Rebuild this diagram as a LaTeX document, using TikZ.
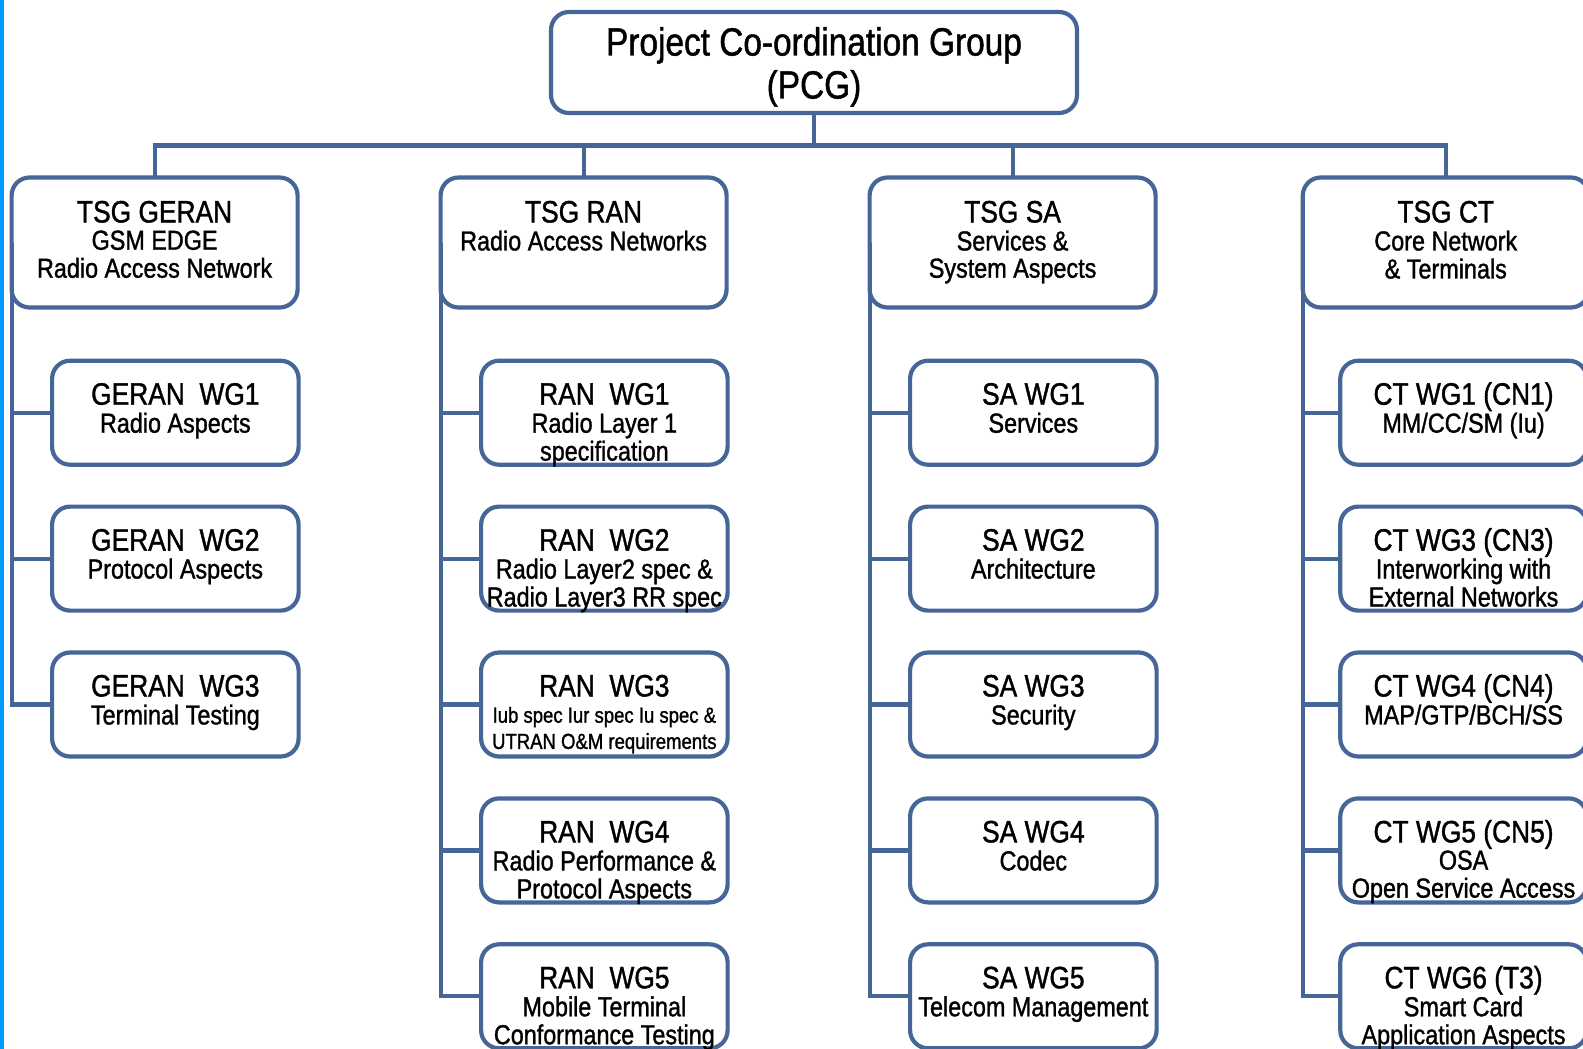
\documentclass[tikz,border=0pt]{standalone}
\usepackage{fontspec}
\setmainfont{Liberation Sans}[FakeStretch=0.85, FakeBold=1.2]
\usetikzlibrary{calc}
\definecolor{lineblue}{RGB}{70,102,152}
\definecolor{stripblue}{RGB}{0,153,255}
\newcommand\pcgfont{\fontsize{39.3}{43}\selectfont}
\newcommand\ttlfont{\fontsize{31}{31}\selectfont}
\newcommand\subfont{\fontsize{27.5}{26.8}\selectfont}
\newcommand\smallsubfont{\fontsize{21.8}{26.2}\selectfont}
\newcommand\lines[1]{\begin{tabular}[t]{@{}c@{}}#1\end{tabular}}
\tikzset{
  ln/.style={draw=lineblue, line width=4.2pt},
  boxbase/.style={ln, fill=white, rounded corners=18pt, inner sep=0pt, outer sep=0pt},
  tsgbox/.style={boxbase, minimum width=286pt, minimum height=130pt},
  wgbox/.style={boxbase, minimum width=246.5pt, minimum height=104pt},
  txt/.style={inner sep=0pt, text=black, font=\subfont, anchor=base},
}
\newcommand\mkwg[4]{%
  \node[wgbox, anchor=north west] (#1) at (#2,#3) {};
  \node[txt] (#1t) at ($(#1.north)+(0,44)$) {\lines{#4}};
}
\begin{document}
\begin{tikzpicture}[x=1pt, y=-1pt]
\clip (0,0) rectangle (1583,1049);
\fill[white] (0,0) rectangle (1583,1049);
\fill[stripblue] (0,0) rectangle (4,1049);

% PCG
\node[boxbase, minimum width=526pt, minimum height=101pt, anchor=north west] (pcg) at (551,12) {};
\node[txt, font=\pcgfont] (pcgt) at ($(pcg.north)+(0,43.5)$) {\lines{Project Co-ordination Group\\(PCG)}};

% TSG boxes
\node[tsgbox, anchor=north west] (tg) at (11.6,177.5) {};
\node[tsgbox, anchor=north west] (tr) at (440.6,177.5) {};
\node[tsgbox, anchor=north west] (ts) at (869.6,177.5) {};
\node[tsgbox, anchor=north west] (tc) at (1302.8,177.5) {};
\node[txt] (tgt) at ($(tg.north)+(0,45)$) {\lines{{\ttlfont TSG GERAN}\\GSM EDGE\\Radio Access Network}};
\node[txt] (trt) at ($(tr.north)+(0,45)$) {\lines{{\ttlfont TSG RAN}\\Radio Access Networks}};
\node[txt] (tst) at ($(ts.north)+(0,45)$) {\lines{{\ttlfont TSG SA}\\Services \&\\System Aspects}};
\node[txt] (tct) at ($(tc.north)+(0,45)$) {\lines{{\ttlfont TSG CT}\\Core Network\\\& Terminals}};

% GERAN WGs
\mkwg{g1}{52.1}{360.7}{{\ttlfont GERAN\ \ WG1}\\Radio Aspects}
\mkwg{g2}{52.1}{506.6}{{\ttlfont GERAN\ \ WG2}\\Protocol Aspects}
\mkwg{g3}{52.1}{652.5}{{\ttlfont GERAN\ \ WG3}\\Terminal Testing}

% RAN WGs
\mkwg{r1}{481.1}{360.7}{{\ttlfont RAN\ \ WG1}\\Radio Layer 1\\specification}
\mkwg{r2}{481.1}{506.6}{{\ttlfont RAN\ \ WG2}\\Radio Layer2 spec \&\\Radio Layer3 RR spec}
\node[wgbox, anchor=north west] (r3) at (481.1,652.5) {};
\node[txt, font=\smallsubfont] (r3t) at ($(r3.north)+(0,44)$) {\lines{{\ttlfont RAN\ \ WG3}\\Iub spec Iur spec Iu spec \&\\UTRAN O\&M requirements}};
\mkwg{r4}{481.1}{798.4}{{\ttlfont RAN\ \ WG4}\\Radio Performance \&\\Protocol Aspects}
\mkwg{r5}{481.1}{944.3}{{\ttlfont RAN\ \ WG5}\\Mobile Terminal\\Conformance Testing}

% SA WGs
\mkwg{s1}{910.1}{360.7}{{\ttlfont SA WG1}\\Services}
\mkwg{s2}{910.1}{506.6}{{\ttlfont SA WG2}\\Architecture}
\mkwg{s3}{910.1}{652.5}{{\ttlfont SA WG3}\\Security}
\mkwg{s4}{910.1}{798.4}{{\ttlfont SA WG4}\\Codec}
\mkwg{s5}{910.1}{944.3}{{\ttlfont SA WG5}\\Telecom Management}

% CT WGs
\mkwg{c1}{1340.3}{360.7}{{\ttlfont CT WG1 (CN1)}\\MM/CC/SM (Iu)}
\mkwg{c3}{1340.3}{506.6}{{\ttlfont CT WG3 (CN3)}\\Interworking with\\External Networks}
\mkwg{c4}{1340.3}{652.5}{{\ttlfont CT WG4 (CN4)}\\MAP/GTP/BCH/SS}
\mkwg{c5}{1340.3}{798.4}{{\ttlfont CT WG5 (CN5)}\\OSA\\Open Service Access}
\mkwg{c6}{1340.3}{944.3}{{\ttlfont CT WG6 (T3)}\\Smart Card\\Application Aspects}

% hierarchy connectors
\coordinate (bar) at (814,145.4);
\draw[ln] (pcg.south) -- (bar);
\draw[ln] (tg.north) -- (tg.north |- bar) -- (tc.north |- bar) -- (tc.north);
\draw[ln] (tr.north) -- (tr.north |- bar);
\draw[ln] (ts.north) -- (ts.north |- bar);

% spines and branches
\foreach \t/\w in {tg/g1, tg/g2, tg/g3,
                   tr/r1, tr/r2, tr/r3, tr/r4, tr/r5,
                   ts/s1, ts/s2, ts/s3, ts/s4, ts/s5,
                   tc/c1, tc/c3, tc/c4, tc/c5, tc/c6}
  \draw[ln] (\t.west) |- (\w.west);
\end{tikzpicture}
\end{document}
